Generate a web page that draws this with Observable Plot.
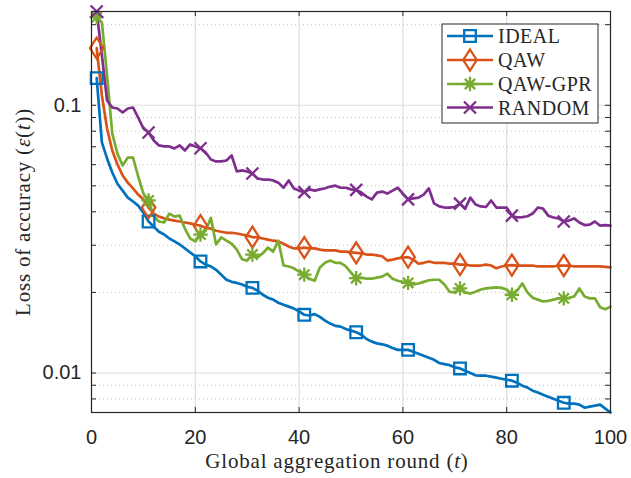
<!DOCTYPE html>
<html><head><meta charset="utf-8">
<script src="https://cdn.jsdelivr.net/npm/d3@7"></script>
<script src="https://cdn.jsdelivr.net/npm/@observablehq/plot@0.6"></script>
<style>
body{margin:0;background:#fff;}
#wrap{position:relative;width:631px;height:478px;}
</style></head><body><div id="wrap"></div>
<script>
// ---- data ----
const rounds = d3.range(1, 101);
const seriesNames = ["IDEAL", "QAW", "QAW-GPR", "RANDOM"];
const seriesColors = ["#0072BD", "#D95319", "#77AC30", "#7E2F8E"];
const xTicks = [0, 20, 40, 60, 80, 100];
const yMajorTicks = [0.01, 0.1];
const yMinorTicks = [0.008, 0.009, 0.02, 0.03, 0.04, 0.05, 0.06, 0.07, 0.08, 0.09, 0.2];
const yLimits = [0.00712, 0.224];
const markerRounds = [1, 11, 21, 31, 41, 51, 61, 71, 81, 91];

const ideal = [0.1263,0.0727,0.0633,0.0561,0.0509,0.0480,0.0452,0.0437,0.0422,0.0397,
0.0368,0.0352,0.0337,0.0329,0.0318,0.0310,0.0302,0.0292,0.0282,0.0273,
0.0261,0.0254,0.0250,0.0243,0.0233,0.0223,0.0219,0.0217,0.0214,0.0210,
0.0208,0.0203,0.0196,0.0191,0.0188,0.0183,0.0180,0.0177,0.0174,0.0170,
0.0165,0.0164,0.0166,0.0162,0.0157,0.0153,0.0150,0.0149,0.0146,0.0144,
0.0142,0.0139,0.0134,0.0131,0.0129,0.0128,0.01265,0.0124,0.0122,0.0122,
0.0122,0.0120,0.0118,0.0116,0.0114,0.0112,0.0109,0.0108,0.0107,0.0105,
0.0104,0.0102,0.0100,0.0098,0.00977,0.00977,0.00969,0.00961,0.00952,0.00944,
0.00936,0.00920,0.00897,0.00882,0.00859,0.00845,0.00830,0.00816,0.00802,0.00788,
0.00774,0.00768,0.00768,0.00762,0.00742,0.00749,0.00755,0.00762,0.00736,0.00712];

const qaw = [0.1635,0.1088,0.0819,0.0678,0.0601,0.0547,0.0514,0.0489,0.0464,0.0445,
0.0415,0.0394,0.0384,0.0378,0.0374,0.0371,0.0368,0.0365,0.0362,0.0358,
0.0355,0.0349,0.0346,0.0340,0.0337,0.0334,0.0334,0.0332,0.0329,0.0326,
0.0322,0.0321,0.0318,0.0315,0.0312,0.0310,0.0304,0.0297,0.0292,0.0292,
0.0294,0.0292,0.0292,0.0289,0.0287,0.0287,0.0287,0.0284,0.0284,0.0282,
0.0281,0.0280,0.0277,0.0277,0.0275,0.0273,0.0263,0.0265,0.0268,0.0270,
0.0271,0.0265,0.0256,0.0258,0.0261,0.0258,0.0258,0.0258,0.0256,0.0256,
0.0254,0.0254,0.0252,0.0252,0.0252,0.0254,0.0252,0.0246,0.0250,0.0252,
0.0253,0.0252,0.0252,0.0252,0.0252,0.0250,0.0250,0.0250,0.0250,0.0252,
0.0252,0.0252,0.0250,0.0250,0.0250,0.0250,0.0250,0.0250,0.0249,0.0248];

const qawGpr = [0.213,0.204,0.129,0.0784,0.0660,0.0596,0.0638,0.0638,0.0542,0.0468,
0.0441,0.0384,0.0368,0.0365,0.0394,0.0384,0.0387,0.0346,0.0318,0.0310,
0.0329,0.0340,0.0380,0.0302,0.0321,0.0312,0.0304,0.0289,0.0266,0.0263,
0.0277,0.0270,0.0280,0.0294,0.0284,0.0312,0.0252,0.0250,0.0246,0.0239,
0.0233,0.0225,0.0221,0.0248,0.0258,0.0263,0.0258,0.0258,0.0250,0.0237,
0.0226,0.0227,0.0225,0.0225,0.0227,0.0229,0.0235,0.0225,0.0221,0.0219,
0.0217,0.0214,0.0216,0.0219,0.0222,0.0223,0.0223,0.0214,0.0201,0.0200,
0.0207,0.0200,0.0198,0.0201,0.0205,0.0207,0.0208,0.0209,0.0208,0.0205,
0.0196,0.0203,0.0216,0.0200,0.0191,0.0188,0.0185,0.0186,0.0188,0.0190,
0.0190,0.0191,0.0193,0.0207,0.0193,0.0190,0.0190,0.0176,0.0173,0.0177];

const random = [0.224,0.1535,0.1042,0.0981,0.0973,0.0940,0.0973,0.0981,0.0900,0.0819,
0.0791,0.0739,0.0708,0.0702,0.0702,0.0690,0.0708,0.0678,0.0714,0.0702,
0.0691,0.0666,0.0627,0.0617,0.0617,0.0622,0.0649,0.0566,0.0571,0.0566,
0.0556,0.0533,0.0528,0.0528,0.0524,0.0514,0.0492,0.0524,0.0489,0.0480,
0.0474,0.0485,0.0480,0.0485,0.0490,0.0497,0.0501,0.0492,0.0492,0.0485,
0.0483,0.0472,0.0456,0.0445,0.0472,0.0476,0.0468,0.0480,0.0492,0.0468,
0.0445,0.0449,0.0452,0.0464,0.0489,0.0430,0.0419,0.0415,0.0415,0.0417,
0.0429,0.0411,0.0452,0.0426,0.0419,0.0417,0.0441,0.0415,0.0415,0.0415,
0.0387,0.0381,0.0382,0.0385,0.0394,0.0415,0.0411,0.0387,0.0381,0.0378,
0.0368,0.0371,0.0378,0.0365,0.0357,0.0358,0.0368,0.0355,0.0357,0.0355];

const seriesValues = [ideal, qaw, qawGpr, random];

// ---- symbols (MATLAB-like markers) ----
const rad = size => Math.sqrt(size / Math.PI);
const squareSym = {draw(c, size){const r = rad(size); c.moveTo(-r,-r); c.lineTo(r,-r); c.lineTo(r,r); c.lineTo(-r,r); c.closePath();}};
const diamondSym = {draw(c, size){const h = rad(size), w = h*0.64; c.moveTo(0,-h); c.lineTo(w,0); c.lineTo(0,h); c.lineTo(-w,0); c.closePath();}};
const asteriskSym = {draw(c, size){const r = rad(size), d = r*0.72; c.moveTo(-r,0); c.lineTo(r,0); c.moveTo(0,-r); c.lineTo(0,r); c.moveTo(-d,-d); c.lineTo(d,d); c.moveTo(-d,d); c.lineTo(d,-d);}};
const crossSym = {draw(c, size){const r = rad(size); c.moveTo(-r,-r); c.lineTo(r,r); c.moveTo(-r,r); c.lineTo(r,-r);}};
const symbols = [squareSym, diamondSym, asteriskSym, crossSym];
const symRadius = [5.8, 10.5, 7.2, 6];

// ---- build ----
const W = 631, H = 478, mt = 11, mb = 66, ml = 91, mr = 21;
const ph = H - mt - mb, pw = W - ml - mr;
const tickLen = 5;
const ink = "#262626";

const rows = [];
seriesNames.forEach((name, k) => seriesValues[k].forEach((v, i) => rows.push({series: name, k, t: rounds[i], v})));

const marks = [
  Plot.ruleY(yMinorTicks, {y: d => d, stroke: "#c2c2c2", strokeDasharray: "1,3", strokeWidth: 1}),
  Plot.ruleY(yMajorTicks, {y: d => d, stroke: "#dedede", strokeWidth: 1.2}),
  Plot.ruleX(xTicks, {x: d => d, stroke: "#dedede", strokeWidth: 1.2}),
  Plot.tickX(xTicks, {x: d => d, insetTop: ph - tickLen, stroke: ink}),
  Plot.tickX(xTicks, {x: d => d, insetBottom: ph - tickLen, stroke: ink}),
  Plot.tickY(yMajorTicks.concat(yMinorTicks), {y: d => d, insetRight: pw - tickLen, stroke: ink}),
  Plot.tickY(yMajorTicks.concat(yMinorTicks), {y: d => d, insetLeft: pw - tickLen, stroke: ink})
];
seriesNames.forEach((name, k) => {
  const sd = rows.filter(d => d.k === k);
  marks.push(Plot.line(sd, {x: "t", y: "v", stroke: seriesColors[k], strokeWidth: 2.7, strokeLinejoin: "round"}));
});
seriesNames.forEach((name, k) => {
  const md = rows.filter(d => d.k === k && markerRounds.includes(d.t));
  marks.push(Plot.dot(md, {x: "t", y: "v", symbol: symbols[k], r: symRadius[k], stroke: seriesColors[k], strokeWidth: 2.3, fill: "none"}));
});
marks.push(Plot.frame({stroke: ink, strokeWidth: 1.2}));

const chart = Plot.plot({
  width: W, height: H, marginTop: mt, marginBottom: mb, marginLeft: ml, marginRight: mr,
  style: {fontFamily: "'Liberation Sans', Arial, sans-serif", fontSize: "20px", color: ink, background: "#fff", overflow: "visible"},
  x: {domain: [0, 100], ticks: xTicks, tickSize: 0, tickPadding: 17, label: null},
  y: {type: "log", domain: yLimits, ticks: yMajorTicks, tickSize: 0, tickPadding: 10, tickFormat: d => String(d), label: null},
  marks
});
document.getElementById("wrap").appendChild(chart);

// ---- axis titles & legend ----
const svg = d3.select(chart);
const serif = "'Liberation Serif', 'Times New Roman', serif";
const xl = svg.append("text").attr("x", 337).attr("y", 468).attr("text-anchor", "middle")
  .attr("font-family", serif).attr("font-size", 21).attr("letter-spacing", 0.8).attr("fill", ink);
xl.append("tspan").text("Global aggregation round (");
xl.append("tspan").attr("font-style", "italic").text("t");
xl.append("tspan").text(")");

const yl = svg.append("text").attr("transform", "translate(30,212) rotate(-90)").attr("text-anchor", "middle")
  .attr("font-family", serif).attr("font-size", 21).attr("letter-spacing", 0.8).attr("fill", ink);
yl.append("tspan").text("Loss of accuracy (");
yl.append("tspan").attr("font-style", "italic").text("ε");
yl.append("tspan").text("(");
yl.append("tspan").attr("font-style", "italic").text("t");
yl.append("tspan").text("))");

const lg = svg.append("g");
lg.append("rect").attr("x", 442).attr("y", 24).attr("width", 156).attr("height", 99)
  .attr("fill", "#fff").attr("stroke", ink).attr("stroke-width", 1);
const rowY = [36, 60, 84, 107.5];
seriesNames.forEach((name, k) => {
  const y = rowY[k];
  lg.append("line").attr("x1", 447).attr("x2", 493).attr("y1", y).attr("y2", y)
    .attr("stroke", seriesColors[k]).attr("stroke-width", 2.7);
  const p = d3.path();
  symbols[k].draw(p, symRadius[k] * symRadius[k] * Math.PI);
  lg.append("path").attr("d", p.toString()).attr("transform", `translate(470,${y})`)
    .attr("fill", "none").attr("stroke", seriesColors[k]).attr("stroke-width", 2.3);
  lg.append("text").attr("x", 498).attr("y", y).attr("dy", "0.35em").attr("text-anchor", "start")
    .attr("font-family", serif).attr("font-size", 20).attr("letter-spacing", 0.5).attr("fill", ink).text(name);
});
</script></body></html>
